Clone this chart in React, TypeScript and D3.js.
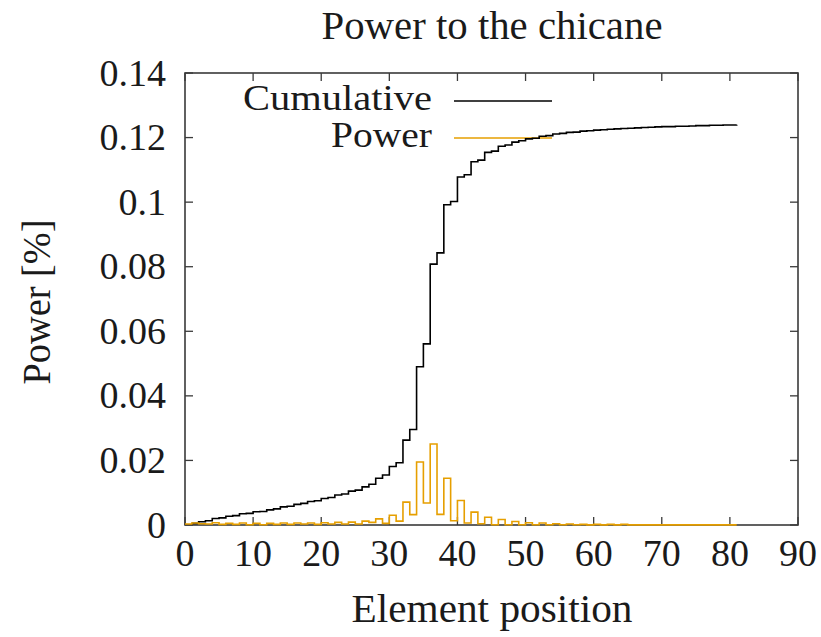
import React from "react";
import * as d3 from "d3";

const title = "Power to the chicane";
const xLabel = "Element position";
const yLabel = "Power [%]";
const seriesNames = ["Cumulative", "Power"];

const xTicks = [0, 10, 20, 30, 40, 50, 60, 70, 80, 90];
const yTicks = [0, 0.02, 0.04, 0.06, 0.08, 0.1, 0.12, 0.14];
const yTickLabels = ["0", "0.02", "0.04", "0.06", "0.08", "0.1", "0.12", "0.14"];

// cumulative power, element positions 1..81
const cumulative = [
  0.0005, 0.0010, 0.0013, 0.0020, 0.0022, 0.0027, 0.0029, 0.0035, 0.0036, 0.0041,
  0.0042, 0.0047, 0.0050, 0.0056, 0.0058, 0.0064, 0.0067, 0.0073, 0.0075, 0.0082,
  0.0085, 0.0093, 0.0096, 0.0105, 0.0108, 0.0118, 0.0126, 0.0145, 0.0155, 0.0181,
  0.0193, 0.0263, 0.0296, 0.0490, 0.0561, 0.0808, 0.0843, 0.0992, 0.1002, 0.1078,
  0.1085, 0.1125, 0.1130, 0.1154, 0.1158, 0.1173, 0.1177, 0.1186, 0.1190, 0.1196,
  0.1198, 0.1204, 0.1206, 0.1211, 0.1213, 0.1216, 0.1217, 0.1220, 0.1221, 0.1223,
  0.1224, 0.1226, 0.1227, 0.1228, 0.1229, 0.1230, 0.1231, 0.1232, 0.1233, 0.1234,
  0.1234, 0.1235, 0.1235, 0.1236, 0.1237, 0.1237, 0.1238, 0.1238, 0.1239, 0.1239,
  0.1240,
];

// power per element, element positions 0..81
const power = [
  0.0003, 0.0006, 0.0004, 0.0003, 0.0007, 0.0002, 0.0005, 0.0002, 0.0006, 0.0001,
  0.0005, 0.0001, 0.0005, 0.0002, 0.0006, 0.0002, 0.0006, 0.0003, 0.0006, 0.0002,
  0.0007, 0.0003, 0.0008, 0.0003, 0.0009, 0.0003, 0.0012, 0.0008, 0.0019, 0.0005,
  0.0030, 0.0012, 0.0071, 0.0032, 0.0195, 0.0068, 0.0251, 0.0033, 0.0145, 0.0013,
  0.0076, 0.0006, 0.0040, 0.0004, 0.0024, 0.0001, 0.0017, 0.0001, 0.0011, 0.0001,
  0.0007, 0.0001, 0.0006, 0.0001, 0.0004, 0.0001, 0.0003, 0.0001, 0.0002, 0.00005,
  0.0002, 0.00005, 0.0002, 0.00005, 0.0002, 0.00003, 0.00003, 0.00003, 0.00003, 0.00003,
  0.00003, 0.00003, 0.00003, 0.00003, 0.00003, 0.00003, 0.00003, 0.00003, 0.00003, 0.00003,
  0.00003, 0.00003,
];

const W = 821;
const H = 637;
const L = 185, R = 798, T = 73, B = 525;
const FONT = "'Liberation Serif', 'Times New Roman', serif";
const TXT = "#1a1a1a";
const ORANGE = "#e69f00";
const BORDER = "#3a3a3a";

export default function App() {
  const x = d3.scaleLinear().domain([0, 90]).range([L, R]);
  const y = d3.scaleLinear().domain([0, 0.14]).range([B, T]);

  const line = d3
    .line<[number, number]>()
    .x((d) => x(d[0]))
    .y((d) => y(d[1]))
    .curve(d3.curveStepAfter);

  const cumPts: [number, number][] = cumulative.map((v, i) => [i + 1, v]);
  const powPts: [number, number][] = power.map((v, i) => [i, v]);

  const tickLen = 8;

  return (
    <svg
      width={W}
      height={H}
      style={{ position: "absolute", left: 0, top: 0, background: "#fff" }}
      fontFamily={FONT}
    >
      <rect x={0} y={0} width={W} height={H} fill="#fff" />
      {/* ticks */}
      <g stroke={BORDER} strokeWidth={1.3}>
        {xTicks.map((t) => (
          <g key={"xt" + t}>
            <line x1={x(t)} x2={x(t)} y1={B} y2={B - tickLen} />
            <line x1={x(t)} x2={x(t)} y1={T} y2={T + tickLen} />
          </g>
        ))}
        {yTicks.map((t) => (
          <g key={"yt" + t}>
            <line x1={L} x2={L + tickLen} y1={y(t)} y2={y(t)} />
            <line x1={R} x2={R - tickLen} y1={y(t)} y2={y(t)} />
          </g>
        ))}
      </g>
      {/* border */}
      <rect x={L} y={T} width={R - L} height={B - T} fill="none" stroke={BORDER} strokeWidth={1.6} />

      {/* tick labels */}
      <g fill={TXT} fontSize={38}>
        {xTicks.map((t) => (
          <text key={"xl" + t} x={x(t)} y={566} textAnchor="middle">
            {t}
          </text>
        ))}
        {yTicks.map((t, i) => (
          <text key={"yl" + t} x={166} y={y(t) + 12.5} textAnchor="end">
            {yTickLabels[i]}
          </text>
        ))}
      </g>

      {/* axis labels and title */}
      <g fill={TXT} fontSize={39}>
        <text x={492} y={39} textAnchor="middle" textLength={341} lengthAdjust="spacingAndGlyphs">
          {title}
        </text>
        <text x={492} y={622} textAnchor="middle" textLength={281} lengthAdjust="spacingAndGlyphs">
          {xLabel}
        </text>
        <text
          transform={`translate(50, 302) rotate(-90)`}
          textAnchor="middle"
          textLength={165}
          lengthAdjust="spacingAndGlyphs"
        >
          {yLabel}
        </text>
      </g>
      <g fill={TXT} fontSize={35}>
        <text x={432} y={110} textAnchor="end" textLength={189} lengthAdjust="spacingAndGlyphs">
          {seriesNames[0]}
        </text>
        <text x={432} y={147} textAnchor="end" textLength={101} lengthAdjust="spacingAndGlyphs">
          {seriesNames[1]}
        </text>
      </g>

      {/* legend samples */}
      <line x1={454} x2={552} y1={101} y2={101} stroke="#000" strokeWidth={1.6} />
      <line x1={454} x2={552} y1={138} y2={138} stroke={ORANGE} strokeWidth={1.6} />

      {/* series */}
      <path d={line(cumPts) || ""} fill="none" stroke="#000" strokeWidth={1.6} />
      <path d={line(powPts) || ""} fill="none" stroke={ORANGE} strokeWidth={1.6} />
    </svg>
  );
}
